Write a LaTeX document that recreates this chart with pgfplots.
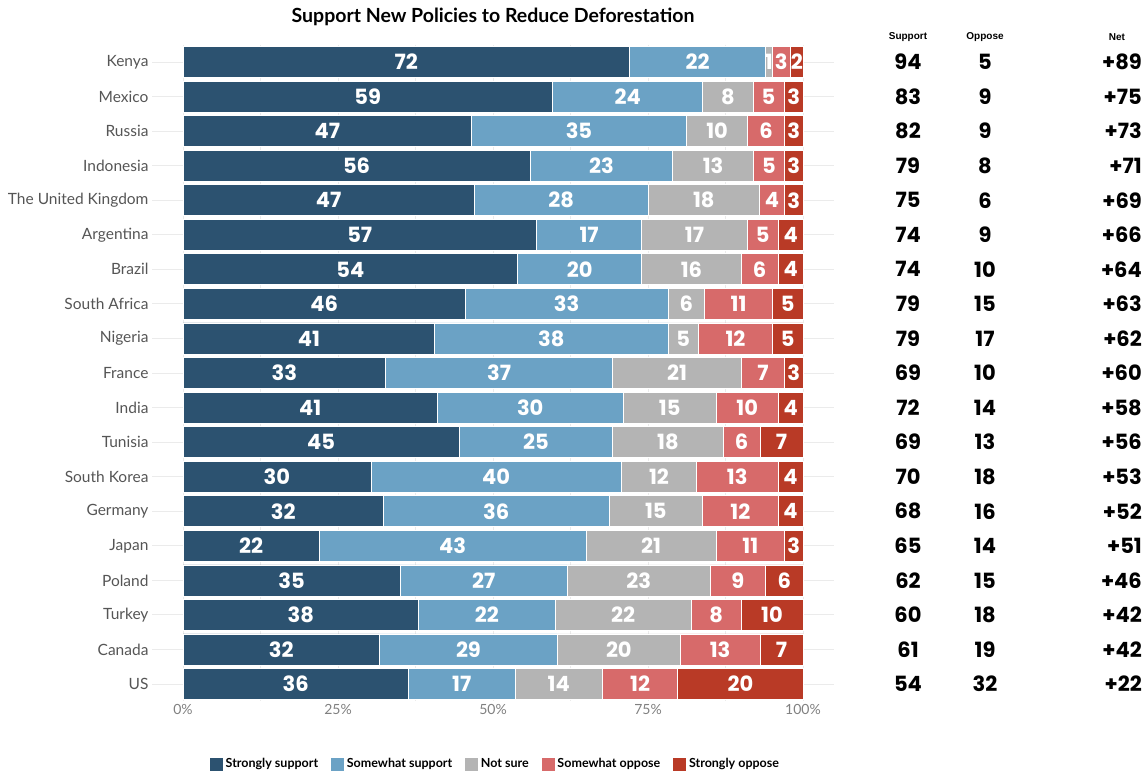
\documentclass[border=0pt]{standalone}
\usepackage{fontspec}
\setmainfont{Lato}
\newfontfamily\numfont{Poppins}
\newfontfamily\arialf{Liberation Sans}
\usepackage{pgfplots}
\usepackage{pgfplotstable}
\pgfplotsset{compat=1.18}
\definecolor{c1}{RGB}{44,82,112}
\definecolor{c2}{RGB}{107,162,197}
\definecolor{c3}{RGB}{180,180,180}
\definecolor{c4}{RGB}{215,106,106}
\definecolor{c5}{RGB}{185,58,38}
\definecolor{gridc}{RGB}{235,235,235}
\definecolor{labc}{RGB}{85,85,85}

\pgfplotstableread{
idx a b c d e sup opp net
0 72 22 1 3 2 94 5 89
1 59 24 8 5 3 83 9 75
2 47 35 10 6 3 82 9 73
3 56 23 13 5 3 79 8 71
4 47 28 18 4 3 75 6 69
5 57 17 17 5 4 74 9 66
6 54 20 16 6 4 74 10 64
7 46 33 6 11 5 79 15 63
8 41 38 5 12 5 79 17 62
9 33 37 21 7 3 69 10 60
10 41 30 15 10 4 72 14 58
11 45 25 18 6 7 69 13 56
12 30 40 12 13 4 70 18 53
13 32 36 15 12 4 68 16 52
14 22 43 21 11 3 65 14 51
15 35 27 23 9 6 62 15 46
16 38 22 22 8 10 60 18 42
17 32 29 20 13 7 61 19 42
18 36 17 14 12 20 54 32 22
}\data

\newcommand{\tot}{(\thisrow{a}+\thisrow{b}+\thisrow{c}+\thisrow{d}+\thisrow{e})}

\pgfplotsset{
  common/.style={
    at={(152pt,-44.7pt)}, anchor=north west,
    scale only axis, width=682pt, height=656.6pt,
    xmin=-5, xmax=105, ymin=-0.5, ymax=18.5, y dir=reverse,
  },
  myleg/.style={legend image code/.code={\fill[##1] (0pt,-7pt) rectangle (14pt,7pt);}},
  seglab/.style={draw=none, mark=none, nodes near coords, point meta=explicit symbolic,
    nodes near coords style={font=\numfont\bfseries\fontsize{21}{21}\selectfont, text=white, anchor=center, inner sep=0pt}},
  numcol/.style={draw=none, mark=none, nodes near coords, point meta=explicit symbolic,
    nodes near coords style={font=\numfont\bfseries\fontsize{21}{21}\selectfont, text=black, anchor=center, inner sep=0pt}},
}

\begin{document}
\begin{tikzpicture}
\path[use as bounding box] (0,0) rectangle (1148pt,-773pt);

\begin{axis}[common,
  xbar stacked, bar width=31pt,
  ytick={0,...,18},
  yticklabels={Kenya,Mexico,Russia,Indonesia,The United Kingdom,Argentina,Brazil,South Africa,Nigeria,France,India,Tunisia,South Korea,Germany,Japan,Poland,Turkey,Canada,US},
  yticklabel style={font=\fontsize{15.5}{17}\selectfont, text=labc},
  xtick={0,25,50,75,100},
  xticklabels={0\%,25\%,50\%,75\%,100\%},
  xticklabel style={font=\fontsize{14}{16}\selectfont, text=gray},
  minor xtick={12.5,37.5,62.5,87.5},
  xmajorgrids, xminorgrids, ymajorgrids,
  major grid style={color=gridc, line width=0.9pt},
  minor grid style={color=gridc, line width=0.5pt},
  axis line style={draw=none},
  major tick length=0pt, minor tick length=0pt,
  tick style={draw=none},
  title={Support New Policies to Reduce Deforestation},
  title style={font=\bfseries\fontsize{19.5}{22}\selectfont, at={(0.5,1)}, anchor=base, yshift=16pt},
  legend style={at={(0.5,0)}, anchor=center, xshift=2pt, yshift=-62.7pt, draw=none,
    font=\bfseries\fontsize{12.5}{14}\selectfont, legend columns=5,
    /tikz/every even column/.append style={column sep=10pt}},
  legend cell align=left,
]
\addplot[fill=c1, draw=white, line width=0.7pt, myleg] table[x expr=\thisrow{a}*100/\tot, y=idx] {\data};
\addplot[fill=c2, draw=white, line width=0.7pt, myleg] table[x expr=\thisrow{b}*100/\tot, y=idx] {\data};
\addplot[fill=c3, draw=white, line width=0.7pt, myleg] table[x expr=\thisrow{c}*100/\tot, y=idx] {\data};
\addplot[fill=c4, draw=white, line width=0.7pt, myleg] table[x expr=\thisrow{d}*100/\tot, y=idx] {\data};
\addplot[fill=c5, draw=white, line width=0.7pt, myleg] table[x expr=\thisrow{e}*100/\tot, y=idx] {\data};
\legend{Strongly support, Somewhat support, Not sure, Somewhat oppose, Strongly oppose}
\end{axis}

\begin{axis}[common, hide axis, clip=false]
\addplot[seglab] table[x expr=(\thisrow{a}/2)*100/\tot, y=idx, meta=a] {\data};
\addplot[seglab] table[x expr=(\thisrow{a}+\thisrow{b}/2)*100/\tot, y=idx, meta=b] {\data};
\addplot[seglab] table[x expr=(\thisrow{a}+\thisrow{b}+\thisrow{c}/2)*100/\tot, y=idx, meta=c] {\data};
\addplot[seglab] table[x expr=(\thisrow{a}+\thisrow{b}+\thisrow{c}+\thisrow{d}/2)*100/\tot, y=idx, meta=d] {\data};
\addplot[seglab] table[x expr=(\thisrow{a}+\thisrow{b}+\thisrow{c}+\thisrow{d}+\thisrow{e}/2)*100/\tot, y=idx, meta=e] {\data};
\end{axis}

\begin{axis}[at={(860pt,-44.7pt)}, anchor=north west,
  scale only axis, width=288pt, height=656.6pt,
  xmin=0, xmax=288, ymin=-0.5, ymax=18.5, y dir=reverse,
  hide axis, clip=false]
\addplot[numcol] table[x expr=48, y=idx, meta=sup] {\data};
\addplot[numcol] table[x expr=125, y=idx, meta=opp] {\data};
\addplot[numcol, nodes near coords={+\pgfplotspointmeta},
  nodes near coords style={anchor=east}]
  table[x expr=282, y=idx, meta=net] {\data};
\node[font=\arialf\bfseries\fontsize{10}{12}\selectfont] at (axis cs:48,-0.72) {Support};
\node[font=\arialf\bfseries\fontsize{10}{12}\selectfont] at (axis cs:125,-0.72) {Oppose};
\node[font=\arialf\bfseries\fontsize{10}{12}\selectfont] at (axis cs:257,-0.72) {Net};
\end{axis}
\end{tikzpicture}
\end{document}
